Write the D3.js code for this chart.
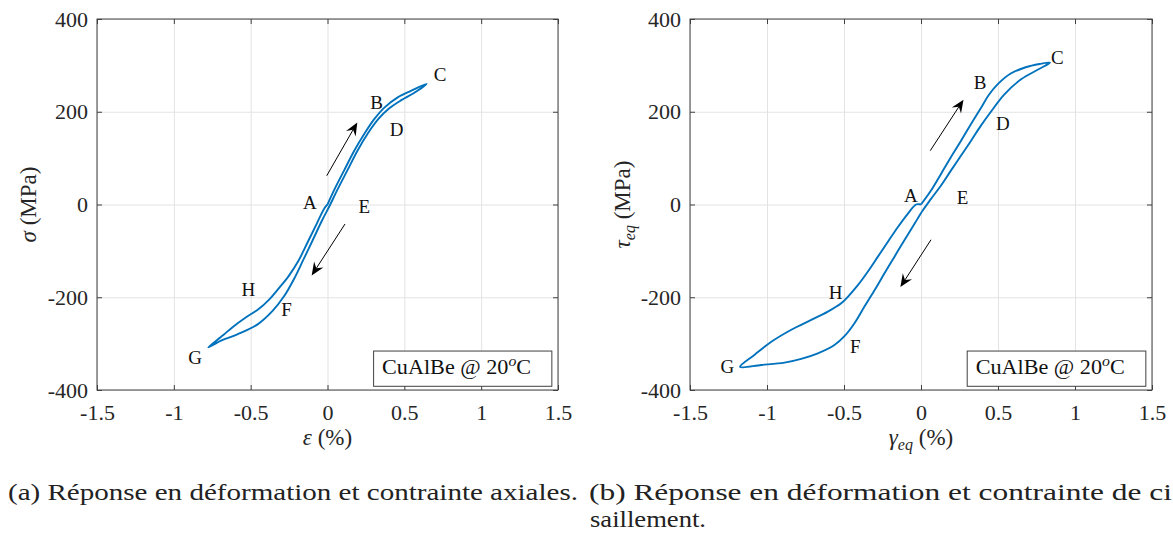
<!DOCTYPE html>
<html>
<head>
<meta charset="utf-8">
<script src="https://cdn.jsdelivr.net/npm/d3@7"></script>
</head>
<body style="margin:0">
<svg id="chart" width="1173" height="534"></svg>
<script>
// axial test: eps (%) vs sigma (MPa), path A -> C -> G -> A
const axialStrain = [0, 0.043, 0.109, 0.174, 0.239, 0.304, 0.37, 0.457, 0.543, 0.645,
    0.56, 0.48, 0.40, 0.33, 0.26, 0.195, 0.13, 0.063, 0.018, -0.035, -0.095, -0.157, -0.217,
    -0.283, -0.359, -0.457, -0.587, -0.696, -0.776,
    -0.68, -0.62, -0.53, -0.45, -0.38, -0.32, -0.254, -0.19, -0.13, -0.068, -0.02, 0];
const axialStress = [0, 31, 74, 116, 152, 184, 209, 231, 245, 260,
    240, 225, 207, 184, 152, 116, 74, 31, 0, -34, -76, -119, -160,
    -198, -230, -259, -280, -294, -308,
    -282, -265, -243, -226, -205, -182, -155, -122, -82, -40, -8, 0];

// shear test: gamma_eq (%) vs tau_eq (MPa)
const shearStrain = [0, 0.065, 0.13, 0.194, 0.259, 0.324, 0.389, 0.44, 0.50, 0.58, 0.68, 0.77, 0.838,
    0.76, 0.65, 0.54, 0.454, 0.389, 0.324, 0.259, 0.194, 0.13, 0.065, 0.011, -0.043, -0.108,
    -0.173, -0.238, -0.302, -0.367, -0.432, -0.497, -0.562, -0.67, -0.778, -0.886, -1.037, -1.175,
    -1.08, -0.972, -0.842, -0.713, -0.605, -0.518, -0.475, -0.41, -0.346, -0.281, -0.216, -0.151,
    -0.086, -0.032, 0];
const shearStress = [0, 30, 66, 102, 137, 173, 208, 236, 260, 282, 296, 303, 306,
    291, 270, 237, 200, 170, 137, 105, 73, 41, 12, -13, -42, -77,
    -113, -149, -185, -220, -256, -284, -303, -321, -333, -341, -346, -350,
    -324, -296, -270, -249, -231, -213, -199, -174, -145, -113, -81, -49,
    -20, 0, 0];

// point labels
const pointNames = ["A", "B", "C", "D", "E", "F", "G", "H"];
const axialLabelX = [-0.114, 0.32, 0.732, 0.45, 0.24, -0.266, -0.862, -0.515];
const axialLabelY = [5, 221, 281, 161, -3, -226, -329, -183];
const shearLabelX = [-0.065, 0.384, 0.885, 0.531, 0.27, -0.426, -1.258, -0.555];
const shearLabelY = [19, 264, 318, 174, 16, -306, -349, -189];

// arrows [x0, y0, x1, y1]
const axialArrows = [[-0.005, 62, 0.194, 177], [0.114, -42, -0.103, -153]];
const shearArrows = [[0.06, 116, 0.276, 226], [0.065, -76, -0.134, -178]];

const xTicks = [-1.5, -1, -0.5, 0, 0.5, 1, 1.5];
const yTicks = [-400, -200, 0, 200, 400];

const svg = d3.select("#chart");
const lineColor = "#0072BD";

function drawPanel(left, right, strain, stress, labX, labY, arrows, yLabel, xLabel, yLabelX) {
    const top = 19, bottom = 390;
    const x = d3.scaleLinear().domain([-1.5, 1.5]).range([left, right]);
    const y = d3.scaleLinear().domain([-400, 400]).range([bottom, top]);
    const g = svg.append("g");

    // grid
    g.append("g").attr("transform", "translate(0," + bottom + ")")
        .call(d3.axisBottom(x).tickValues(xTicks).tickSize(-(bottom - top)).tickFormat(""))
        .call(a => a.select(".domain").remove())
        .selectAll("line").attr("stroke", "#e3e3e3");
    g.append("g").attr("transform", "translate(" + left + ",0)")
        .call(d3.axisLeft(y).tickValues(yTicks).tickSize(-(right - left)).tickFormat(""))
        .call(a => a.select(".domain").remove())
        .selectAll("line").attr("stroke", "#e3e3e3");

    // axes with inward ticks
    const fmt = d => String(d);
    const bx = g.append("g").attr("transform", "translate(0," + bottom + ")")
        .call(d3.axisBottom(x).tickValues(xTicks).tickSize(-5).tickPadding(14).tickFormat(fmt));
    const lx = g.append("g").attr("transform", "translate(" + left + ",0)")
        .call(d3.axisLeft(y).tickValues(yTicks).tickSize(-5).tickPadding(9).tickFormat(fmt));
    const tx = g.append("g").attr("transform", "translate(0," + top + ")")
        .call(d3.axisTop(x).tickValues(xTicks).tickSize(-5).tickFormat(""));
    const rx = g.append("g").attr("transform", "translate(" + right + ",0)")
        .call(d3.axisRight(y).tickValues(yTicks).tickSize(-5).tickFormat(""));
    [bx, lx, tx, rx].forEach(a => {
        a.select(".domain").remove();
        a.selectAll("line").attr("stroke", "#404040");
        a.selectAll("text").attr("font-size", 22).attr("fill", "#262626");
    });
    g.append("rect").attr("x", left).attr("y", top)
        .attr("width", right - left).attr("height", bottom - top)
        .attr("fill", "none").attr("stroke", "#404040").attr("stroke-width", 1);

    // loop
    const pts = strain.map((s, i) => [s, stress[i]]);
    g.append("path").datum(pts)
        .attr("d", d3.line().x(d => x(d[0])).y(d => y(d[1])).curve(d3.curveCatmullRom.alpha(0.5)))
        .attr("fill", "none").attr("stroke", lineColor).attr("stroke-width", 1.9)
        .attr("stroke-linejoin", "round");

    // arrows
    arrows.forEach(a => {
        const x0 = x(a[0]), y0 = y(a[1]), x1 = x(a[2]), y1 = y(a[3]);
        const ang = Math.atan2(y1 - y0, x1 - x0);
        const L = 13, Wd = 5.5;
        const c = Math.cos(ang), s = Math.sin(ang);
        const bxp = x1 - L * c, byp = y1 - L * s;
        const nx = x1 - 0.65 * L * c, ny = y1 - 0.65 * L * s;
        g.append("line").attr("x1", x0).attr("y1", y0).attr("x2", nx).attr("y2", ny)
            .attr("stroke", "#000").attr("stroke-width", 1);
        g.append("path")
            .attr("d", "M" + x1 + "," + y1 +
                "L" + (bxp - Wd * s) + "," + (byp + Wd * c) +
                "L" + nx + "," + ny +
                "L" + (bxp + Wd * s) + "," + (byp - Wd * c) + "Z")
            .attr("fill", "#000");
    });

    // point labels
    g.selectAll(".ptlab").data(pointNames).enter().append("text")
        .attr("class", "ptlab")
        .attr("x", (d, i) => x(labX[i]))
        .attr("y", (d, i) => y(labY[i]))
        .attr("dy", "0.35em")
        .attr("text-anchor", "middle")
        .attr("font-size", 19)
        .attr("fill", "#111")
        .text(d => d);

    // legend box
    const lgX = x(0.3), lgY = y(-316);
    g.append("rect").attr("x", lgX).attr("y", lgY)
        .attr("width", x(1.46) - lgX).attr("height", y(-392) - lgY)
        .attr("fill", "#fff").attr("stroke", "#404040").attr("stroke-width", 1);
    const lt = g.append("text").attr("x", lgX + 8.5).attr("y", lgY + 23)
        .attr("font-size", 21).attr("fill", "#111")
        .attr("textLength", 149).attr("lengthAdjust", "spacingAndGlyphs");
    lt.append("tspan").text("CuAlBe @ 20");
    lt.append("tspan").attr("font-style", "italic").attr("font-size", 15).attr("dy", -8).text("o");
    lt.append("tspan").attr("dy", 8).text("C");

    // axis labels
    const yl = g.append("text")
        .attr("transform", "translate(" + yLabelX + "," + ((top + bottom) / 2) + ") rotate(-90)")
        .attr("text-anchor", "middle").attr("font-size", 23).attr("fill", "#262626");
    yLabel(yl);
    const xl = g.append("text").attr("x", (left + right) / 2).attr("y", 445)
        .attr("text-anchor", "middle").attr("font-size", 23).attr("fill", "#262626");
    xLabel(xl);
}

drawPanel(97, 558, axialStrain, axialStress, axialLabelX, axialLabelY, axialArrows,
    t => { t.append("tspan").attr("font-style", "italic").text("σ"); t.append("tspan").text(" (MPa)"); },
    t => { t.append("tspan").attr("font-style", "italic").text("ε"); t.append("tspan").text(" (%)"); },
    36);

drawPanel(690, 1152, shearStrain, shearStress, shearLabelX, shearLabelY, shearArrows,
    t => {
        t.append("tspan").attr("font-style", "italic").text("τ");
        t.append("tspan").attr("font-style", "italic").attr("font-size", 16).attr("dy", 5).text("eq");
        t.append("tspan").attr("dy", -5).text(" (MPa)");
    },
    t => {
        t.append("tspan").attr("font-style", "italic").text("γ");
        t.append("tspan").attr("font-style", "italic").attr("font-size", 16).attr("dy", 5).text("eq");
        t.append("tspan").attr("dy", -5).text(" (%)");
    },
    630);

// captions
svg.append("text").attr("x", 8).attr("y", 500).attr("font-size", 23).attr("fill", "#222")
    .attr("textLength", 570).attr("lengthAdjust", "spacingAndGlyphs")
    .text("(a) Réponse en déformation et contrainte axiales.");
svg.append("text").attr("x", 589).attr("y", 500).attr("font-size", 23).attr("fill", "#222")
    .attr("textLength", 583).attr("lengthAdjust", "spacingAndGlyphs")
    .text("(b) Réponse en déformation et contrainte de ci");
svg.append("text").attr("x", 590).attr("y", 527).attr("font-size", 23).attr("fill", "#222")
    .attr("textLength", 116).attr("lengthAdjust", "spacingAndGlyphs")
    .text("saillement.");

// serif face on every text element
svg.selectAll("g").attr("font-family", null);
svg.selectAll("text").attr("font-family", "'Liberation Serif'");
</script>
</body>
</html>
